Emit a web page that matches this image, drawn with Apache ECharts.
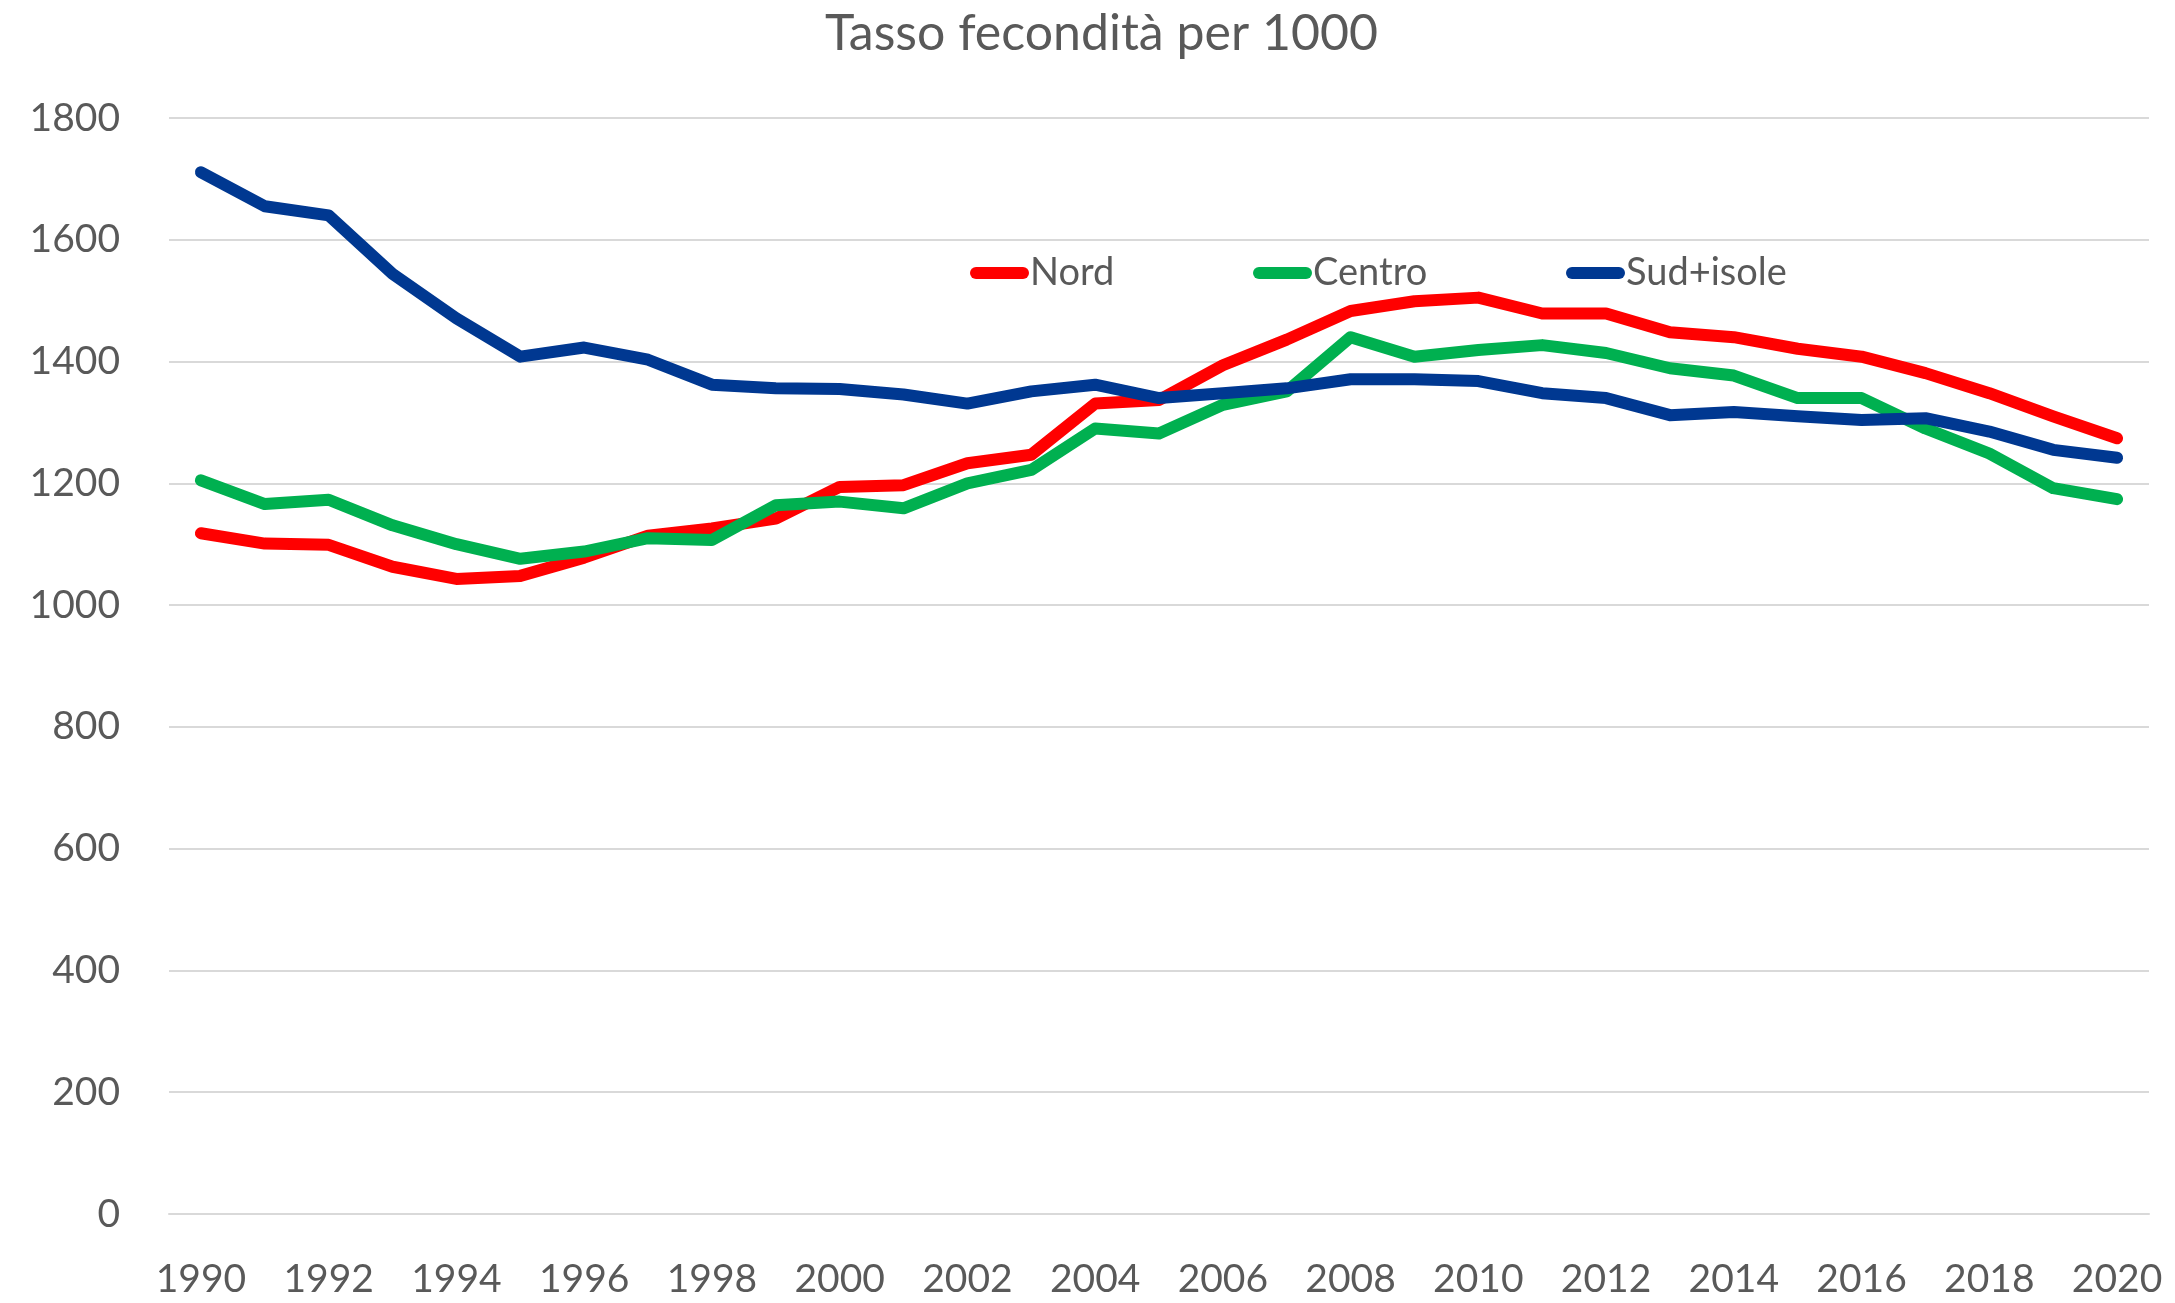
<!DOCTYPE html>
<html>
<head>
<meta charset="utf-8">
<script src="https://cdn.jsdelivr.net/npm/echarts@6/dist/echarts.min.js"></script>
<style>
  html, body { margin: 0; padding: 0; background: #fff; }
  #chart { width: 2175px; height: 1303px; }
</style>
</head>
<body>
<div id="chart"></div>
<script>
// anni
const years = [
  "1990", "1991", "1992", "1993", "1994", "1995", "1996", "1997", "1998", "1999",
  "2000", "2001", "2002", "2003", "2004", "2005", "2006", "2007", "2008", "2009",
  "2010", "2011", "2012", "2013", "2014", "2015", "2016", "2017", "2018", "2019", "2020"
];

// tasso fecondità per 1000
const nord = [
  1118, 1101, 1099, 1063, 1043, 1048, 1078, 1114, 1126, 1142,
  1194, 1197, 1233, 1247, 1331, 1337, 1394, 1436, 1483, 1499,
  1505, 1479, 1479, 1448, 1440, 1421, 1408, 1381, 1348, 1310, 1274
];
const centro = [
  1205, 1166, 1173, 1131, 1100, 1076, 1088, 1110, 1107, 1164,
  1170, 1159, 1200, 1222, 1290, 1282, 1329, 1351, 1440, 1408,
  1419, 1427, 1414, 1389, 1377, 1340, 1340, 1290, 1249, 1192, 1174
];
const sud = [
  1711, 1655, 1640, 1544, 1471, 1408, 1423, 1403, 1362, 1356,
  1355, 1346, 1331, 1351, 1362, 1340, 1348, 1356, 1371, 1371,
  1368, 1348, 1340, 1312, 1317, 1310, 1304, 1307, 1285, 1255, 1242
];

const FONT = "Lato";
const GREY = "#595959";

const chart = echarts.init(document.getElementById("chart"));

// icona legenda: linea spessa con estremi arrotondati
const legendIcon = "path://M6,0 L53,0 A6,6 0 0 1 53,12 L6,12 A6,6 0 0 1 6,0 Z";

const legendBase = {
  top: 249,
  icon: legendIcon,
  itemWidth: 59,
  itemHeight: 12,
  textStyle: { fontFamily: FONT, fontSize: 38, color: GREY, padding: [0, 0, 0, -4] }
};

const makeLine = (name, data, color) => ({
  name: name,
  type: "line",
  data: data,
  showSymbol: false,
  symbol: "none",
  color: color,
  lineStyle: { width: 12, color: color, cap: "round", join: "round" },
  emphasis: { disabled: true }
});

const option = {
  animation: false,
  backgroundColor: "#ffffff",
  title: {
    text: "Tasso fecondità per 1000",
    left: 820,
    top: 4,
    textStyle: { fontFamily: FONT, fontSize: 50, fontWeight: "normal", color: GREY }
  },
  legend: [
    Object.assign({}, legendBase, { left: 965, data: ["Nord"] }),
    Object.assign({}, legendBase, { left: 1248, data: ["Centro"] }),
    Object.assign({}, legendBase, { left: 1561, data: ["Sud+isole"] })
  ],
  grid: { left: 169, right: 26, top: 118, bottom: 89, containLabel: false },
  xAxis: {
    type: "category",
    data: years,
    boundaryGap: true,
    axisLine: { show: true, lineStyle: { color: "#d9d9d9", width: 2 } },
    axisTick: { show: false },
    axisLabel: {
      interval: 1,
      margin: 46,
      fontFamily: FONT,
      fontSize: 39,
      color: GREY
    }
  },
  yAxis: {
    type: "value",
    min: 0,
    max: 1800,
    interval: 200,
    axisLine: { show: false },
    axisTick: { show: false },
    splitLine: { lineStyle: { color: "#d9d9d9", width: 2 } },
    axisLabel: {
      margin: 49,
      fontFamily: FONT,
      fontSize: 39,
      color: GREY,
      formatter: v => String(v)
    }
  },
  series: [
    makeLine("Nord", nord, "#ff0000"),
    makeLine("Centro", centro, "#00b050"),
    makeLine("Sud+isole", sud, "#003891")
  ]
};

chart.setOption(option);
</script>
</body>
</html>
